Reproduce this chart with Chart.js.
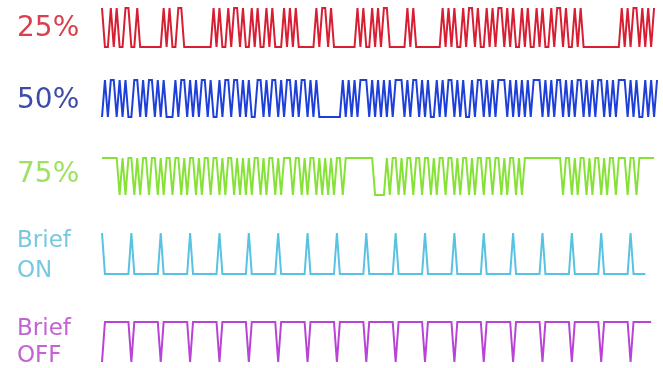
<!DOCTYPE html>
<html>
<head>
<meta charset="utf-8">
<script src="https://cdn.jsdelivr.net/npm/chart.js@4.4.1/dist/chart.umd.min.js"></script>
<style>
  body { margin: 0; background: #fff; }
  canvas { display: block; }
</style>
</head>
<body>
<canvas id="waveChart" width="663" height="368"></canvas>
<script>
// Logic levels per sample, one character each: 1 = high, 0 = low
const duty25 = [
  '10010100110010', '0000000', '10100110', '000000000',
  '1010010110100101001010', '00', '10101', '000000', '1011010', '0000000',
  '101001010110', '00000', '1010', '00000000',
  '1010100101101001010110101', '00', '10100101001011010010100',
  '00000000000', '101011010101'
].join('');

const duty50 = [
  '0101101010011010110101', '000',
  '1011010101', '1010010110', '1101010011', '0101101011', '010110101',
  '00000000',
  '1010101110', '1010101011', '1010110101', '0010101101', '0100101101',
  '0101110101', '0101011101', '0101101010', '1101010110', '1010111010',
  '10010101'
].join('');

const duty75 = [
  '111111',
  '0101101011', '0110101101', '1010110101', '1011010110', '1010101101',
  '0110101110', '1101011010',
  '10101101', '11111111', '100001',
  '0110101101', '1011010110', '1101011010', '1101101101',
  '0110', '101', '111111111111',
  '0110101101', '0110101101', '1101101', '11111'
].join('');

const briefOn = [
  '1000000000', '1000000000', '1000000000', '1000000000', '1000000000',
  '1000000000', '1000000000', '1000000000', '1000000000', '1000000000',
  '1000000000', '1000000000', '1000000000', '1000000000', '1000000000',
  '1000000000', '1000000000', '1000000000', '100000'
].join('');

const briefOff = [
  '0111111111', '0111111111', '0111111111', '0111111111', '0111111111',
  '0111111111', '0111111111', '0111111111', '0111111111', '0111111111',
  '0111111111', '0111111111', '0111111111', '0111111111', '0111111111',
  '0111111111', '0111111111', '0111111111', '01111111'
].join('');

const signals = [duty25, duty50, duty75, briefOn, briefOff];
const rowLabels = [['25%'], ['50%'], ['75%'], ['Brief', 'ON'], ['Brief', 'OFF']];

// row layout on a pixel-like y scale (0 at top)
const rowTop = [8, 80, 158, 233, 322];
const rowBottom = [47, 117, 195, 274, 362];
const lineColors = ['#d81e32', '#1f40d8', '#86e236', '#58c2e2', '#b844d6'];
const textColors = ['#d8404e', '#3c4ca8', '#9ee060', '#78c8e2', '#c462d4'];
const labelSize = [28, 28, 28, 23, 23];
const labelBaselines = [[36], [108], [182], [247, 277], [335, 362]];

const datasets = signals.map((bits, r) => ({
  data: bits.split('').map((b, i) => ({
    x: i,
    y: b === '1' ? rowTop[r] : rowBottom[r]
  })),
  borderColor: lineColors[r],
  borderWidth: 2,
  pointRadius: 0,
  tension: 0,
  fill: false,
  clip: false
}));

// row names on the left
const rowNames = {
  id: 'rowNames',
  afterDraw(chart) {
    const c = chart.ctx;
    c.save();
    c.textBaseline = 'alphabetic';
    c.textAlign = 'left';
    rowLabels.forEach((lines, r) => {
      c.fillStyle = textColors[r];
      c.font = labelSize[r] + 'px "DejaVu Sans", sans-serif';
      lines.forEach((t, k) => c.fillText(t, 17, labelBaselines[r][k]));
    });
    c.restore();
  }
};

const ctx = document.getElementById('waveChart').getContext('2d');
new Chart(ctx, {
  type: 'line',
  data: { datasets },
  options: {
    responsive: false,
    animation: false,
    layout: { padding: { left: 102, right: 6, top: 0, bottom: 0 } },
    scales: {
      x: { type: 'linear', min: 0, max: 189, display: false },
      y: { type: 'linear', min: 0, max: 368, reverse: true, display: false }
    },
    plugins: {
      legend: { display: false },
      tooltip: { enabled: false }
    }
  },
  plugins: [rowNames]
});
</script>
</body>
</html>
